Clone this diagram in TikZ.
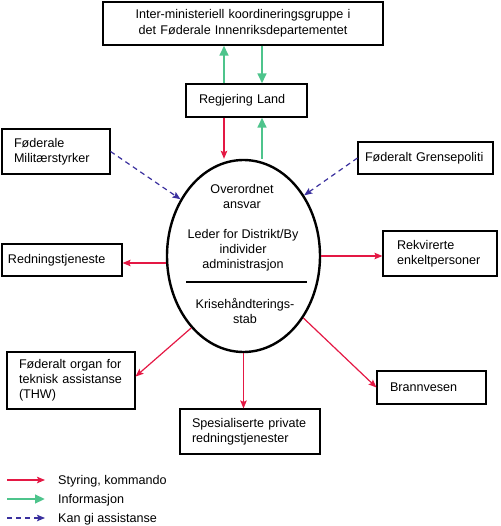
\documentclass[tikz,border=0pt]{standalone}
\usepackage{fontspec}
\setmainfont{Liberation Sans}
\usepackage{tikz}
\usetikzlibrary{
	arrows.meta, shapes.geometric, positioning, calc
}
\definecolor{styrrod}   {RGB}{228, 24,  68}
\definecolor{infogronn} {RGB}{78,  196, 140}
\definecolor{hjelpblaa} {RGB}{58,  48,  158}

\tikzset{
	boks/.style={draw, line width=1.1pt, align=left, inner ysep=0pt, font=\fontsize{12.6}{15}\selectfont},
	tekst/.style={align=center, inner sep=0pt, font=\fontsize{12.6}{15}\selectfont},
	styring/.style={styrrod, line width=1.2pt, -{Stealth[length=8pt,width=6.5pt,inset=1.5pt]}},
	info/.style={infogronn, line width=2.6pt, -{Triangle[length=10pt,width=8.5pt]}},
	hjelp/.style={hjelpblaa, line width=1.2pt, dash pattern=on 5pt off 4pt, -{Stealth[length=8pt,width=6.5pt,inset=1.5pt]}}
}

\begin{document}
\begin{tikzpicture}[x=1pt,y=-1pt]
				\useasboundingbox (0,0) rectangle (500,526);
				% boksene
				\node[boks, align=center, text width=250pt, inner xsep=15pt, minimum height=43pt, font=\fontsize{12.6}{16}\selectfont] (koord) at (243,23.5) {Inter-ministeriell koordineringsgruppe i\\det Føderale Innenriksdepartementet};
				\node[boks, text width=95pt, inner xsep=13pt, minimum height=33pt] (land) at (246.5,100.5) {Regjering Land};
				\node[boks, text width=84pt, inner xsep=12pt, minimum height=45pt] (militaer) at (56,151.5) {Føderale\\Militærstyrker};
				\node[boks, text width=121pt, inner xsep=7pt, minimum height=32pt] (grense) at (425.5,158) {Føderalt Grensepoliti};
				\node[boks, text width=108pt, inner xsep=6pt, minimum height=32pt] (redning) at (62,260) {Redningstjeneste};
				\node[boks, text width=86pt, inner xsep=14pt, minimum height=45pt] (rekv) at (440,253.5) {Rekvirerte\\enkeltpersoner};
				\node[boks, text width=104pt, inner xsep=12pt, minimum height=57pt] (thw) at (71,380.5) {Føderalt organ for\\teknisk assistanse\\(THW)};
				\node[boks, text width=116pt, inner xsep=12pt, minimum height=45pt] (spes) at (250,431.5) {Spesialiserte private\\redningstjenester};
				\node[boks, text width=83pt, inner xsep=13pt, minimum height=33pt] (brann) at (431.5,387.5) {Brannvesen};
				% ellipsen i midten
				\node[draw, ellipse, line width=2.4pt, inner sep=0pt, minimum width=153pt, minimum height=192pt] (ledelse) at (243.5,256) {};
				\node[tekst] (ansvar) at (242,196.5) {Overordnet\\ansvar};
				\node[tekst] (leder) at (243,250) {Leder for Distrikt/By\\individer\\administrasjon};
				\node[tekst] (stab) at (245,311) {Krisehåndterings-\\stab};
				\draw[line width=1.1pt] ($(ledelse.center)+(-57.5,26)$) -- ($(ledelse.center)+(63.5,26)$);
				% piler
				\draw[info] ([xshift=-22.5pt]land.north) -- ([xshift=-22.5pt]land.north |- koord.south);
				\draw[info] ([xshift=15.5pt]land.north |- koord.south) -- ([xshift=15.5pt]land.north);
				\draw[styring] ([xshift=-22.5pt]land.south) -- ([xshift=-22.5pt]land.south |- ledelse.north);
				\draw[info] ([xshift=15.5pt]land.south |- ledelse.north) -- ([xshift=15.5pt]land.south);
				\draw[hjelp] (militaer.east) -- (ledelse.138);
				\draw[hjelp] (grense.west) -- (ledelse.45);
				\draw[styring] ([yshift=-3pt]redning.east -| ledelse.west) -- ([yshift=-3pt]redning.east);
				\draw[styring] (ledelse.east) -- (ledelse.east -| rekv.west);
				\draw[styring] (ledelse.234) -- ([yshift=4pt]thw.east);
				\draw[styring] (ledelse.south) -- (ledelse.south |- spes.north);
				\draw[styring] (ledelse.-46) -- (brann.west);
				% tegnforklaring
				\coordinate (s1) at (7,480);
				\coordinate (s2) at (7,499);
				\coordinate (s3) at (7,518);
				\node[tekst, anchor=west] (styr) at (58,481) {Styring, kommando};
				\node[tekst, anchor=west] (infotxt) at (58,500) {Informasjon};
				\node[tekst, anchor=west] (kan) at (58,519) {Kan gi assistanse};
				\draw[styring] (s1) -- ++(38,0);
				\draw[info] (s2) -- ++(38,0);
				\draw[hjelp] (s3) -- ++(38,0);
			\end{tikzpicture}
\end{document}
